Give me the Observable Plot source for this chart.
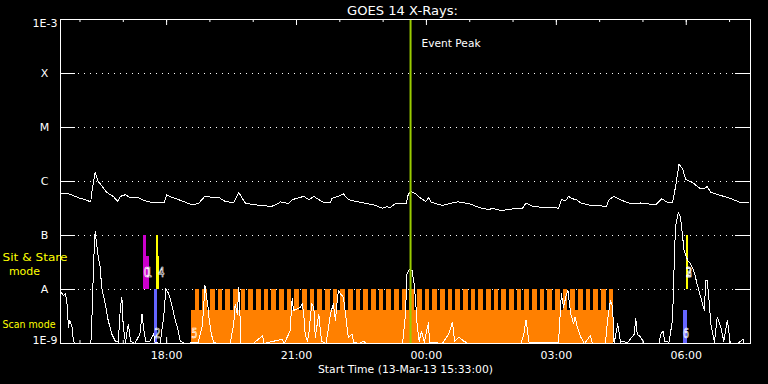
<!DOCTYPE html>
<html><head><meta charset="utf-8">
<script src="https://cdn.jsdelivr.net/npm/d3@7"></script>
<script src="https://cdn.jsdelivr.net/npm/@observablehq/plot@0.6"></script>
<style>html,body{margin:0;padding:0;background:#000;} svg{display:block}</style>
</head><body><div id="chart"></div>
<script>
// ---- data (times in minutes after 13-Mar-2013 15:33 UT) ----
const startTime = Date.UTC(2013, 2, 13, 15, 33);
const endMinute = 956;
const eventPeakMinute = 485;

// GOES long channel, flux in units of 1e-7 W/m^2
const goesMinutes = [1,9,16,25,34,42,43,48,52,57,
64,73,79,83,90,97,108,117,127,136,
144,147,154,168,182,191,197,200,210,219,
228,240,241,247,252,256,268,282,291,298,
305,312,316,321,328,337,344,351,358,365,
374,376,385,392,399,408,420,434,446,452,
457,464,474,479,482,486,492,499,506,510,
514,529,543,551,566,580,594,598,610,626,
640,645,654,667,681,690,694,700,704,709,
715,721,735,746,756,760,767,779,790,804,
825,833,841,848,852,857,862,866,875,887,
894,896,901,915,929,942,954];
const goesFlux7 = [5.9,6.0,5.6,5.0,4.6,4.2,6.0,14.5,10.1,8.4,
6.3,5.3,4.3,5.3,5.7,5.0,5.0,4.4,4.1,4.0,
4.1,5.7,5.1,4.4,3.7,3.9,4.8,5.3,5.1,5.1,
4.3,4.0,4.3,6.3,4.8,4.0,3.7,3.6,3.4,3.7,
4.2,4.0,3.9,4.6,4.9,5.3,4.6,5.3,4.6,4.1,
4.1,4.9,5.3,5.9,4.6,4.3,4.0,3.7,3.2,3.4,
3.3,3.9,3.9,3.9,5.9,6.5,5.9,4.9,4.3,5.0,
4.1,3.6,4.0,4.2,3.9,3.3,3.0,3.2,2.9,3.1,
3.2,4.0,3.5,3.3,3.3,3.2,4.6,4.4,5.3,4.8,
4.6,4.0,3.6,3.6,3.4,4.6,5.3,4.4,3.9,4.0,
3.7,4.8,4.1,4.1,7.8,21,17,11,9.7,7.3,
7.6,8.1,6.3,5.5,4.8,4.1,4.0];

// lower (spiky) curve, flux in units of 1e-9 W/m^2
const lowMinutes = [1,4,7,9,11,13,16,18,20,25,
27,42,43,46,48,50,53,55,57,62,
66,71,76,80,83,85,87,90,94,97,
103,110,113,115,118,124,129,131,138,143,
146,150,154,159,162,166,173,191,196,198,
200,203,204,206,209,212,217,235,240,242,
245,247,248,250,265,267,280,282,307,310,
318,321,323,328,332,335,337,339,342,344,
348,351,353,355,358,360,362,368,374,378,
381,383,385,388,392,395,398,399,404,406,
413,420,424,474,478,480,484,487,490,492,
494,497,500,504,510,511,529,538,543,546,
552,559,565,638,642,645,649,690,694,697,
700,703,707,711,713,716,721,726,734,737,
755,758,762,765,767,772,776,781,785,795,
797,799,804,809,829,832,835,837,843,848,
850,852,856,859,862,864,869,873,878,882,
887,892,894,896,899,901,906,910,915,919,
924,928,938,946,947,954];
const lowFlux9 = [8.9,7.7,8.3,5.4,2.0,2.7,2.0,1.1,1,1,
1,1,1.7,34.5,120,70,35,26,11,5.4,
2.7,1.5,1.1,1.06,4.7,7.2,2.0,1.06,2.3,1.1,
1,1.5,3.5,2.0,1.1,1.1,1.5,1.06,1,3.1,
10.3,8.3,5.4,2.7,2.0,1.1,1,1.06,2.0,3.8,
11.9,6.3,5.5,2.7,1.5,1.06,1,1,2.3,5.4,
3.5,11,6.3,1,1,1,1.4,1,1.2,1,
1.7,6.7,4.1,4.4,4.7,5.4,3.5,1.5,1.1,1.5,
5.4,4.7,1.3,2.0,3.5,1.7,1.1,1,3.5,5.4,
2.7,5.4,9.6,8.3,7.2,3.5,1.5,1.3,1.5,1.06,
1,1.1,1,1,3.5,19.5,24,22.5,12.7,6.3,
2.3,1.1,1.7,1.06,2.5,1.06,1,1.5,2.5,1.1,
1.3,1.1,1,1,1.5,2.75,1.06,1.06,8.3,4.7,
7.2,9.6,3.5,2.3,3.1,2.0,1.3,1,1.4,1,
1,2.7,6.3,4.7,1,2.3,1.06,1.1,1,1.5,
2.9,1.5,1.3,1,1,1.5,1.7,1.1,1.06,2.7,
22.5,143,270,220,93,53,34.5,30,21,12.7,
7.2,4.1,14.7,14.7,5.4,2.3,1.06,3.1,2.0,1.1,
2.7,1,1,1.2,1,1];

// flux levels and their labels
const levelValues = [1e-3, 1e-4, 1e-5, 1e-6, 1e-7, 1e-8, 1e-9];
const levelLabels = ["1E-3", "X", "M", "C", "B", "A", "1E-9"];
const tickLabels = ["18:00", "21:00", "00:00", "03:00", "06:00"];

// observation blocks
const obsStart  = [115.4, 118.7, 130.2, 132.9, 135.7, 181.4, 862.6, 866.8];
const obsEnd    = [118.7, 123.2, 133.9, 135.7, 137.4, 766.6, 868.2, 869.5];
const obsBottom = [1e-8, 1e-8, 1e-9, 1e-8, 1e-8, 1e-9, 1e-9, 1e-8];
const obsTop    = [1e-7, 4.1e-8, 1e-8, 1e-7, 4.1e-8, 4.1e-9, 4.1e-9, 1e-7];
const obsColor  = ["#cc00cc", "#cc00cc", "#6666ff", "#ffff00", "#ffff00", "#ff8000", "#6666ff", "#ffff00"];

// raster starts within scan observation 5 (minutes), each raster ~6.5 min long
const rasterStarts = [186.5,197.1,207.7,218.4,229.0,239.6,250.2,260.8,271.5,282.1,
292.7,303.3,313.9,324.6,335.2,345.8,356.4,367.0,377.7,388.3,
398.9,409.5,420.1,430.8,441.4,452.0,462.6,473.2,483.9,494.5,
505.1,515.7,526.3,537.0,547.6,558.2,568.8,579.4,590.1,600.7,
611.3,621.9,632.5,643.2,653.8,664.4,675.0,685.6,696.3,706.9,
717.5,728.1,738.7,749.4,760.0];
const rasterLength = 6.5;
const rasterTop = 1e-8;

// observation labels
const labelText   = ["0", "1", "2", "4", "5", "6", "3", "2"];
const labelMinute = [115.4, 118.7, 130.2, 135.7, 181.4, 862.6, 866.8, 866.8];
const labelMode   = ["stare", "stare", "scan", "stare", "scan", "scan", "stare", "stare"];

// ---- build ----
const T = m => new Date(startTime + m * 60000);
const goes = goesMinutes.map((m, i) => ({t: T(m), f: goesFlux7[i] * 1e-7}));
const low = lowMinutes.map((m, i) => ({t: T(m), f: lowFlux9[i] * 1e-9}));
const obs = obsStart.map((s, i) => ({s: T(s), e: T(obsEnd[i]), b: obsBottom[i], top: obsTop[i], c: obsColor[i]}));
const rasters = rasterStarts.map(s => ({s: T(s), e: T(s + rasterLength)}));
const labels = labelText.map((t, i) => ({text: t, x: T(labelMinute[i]), mode: labelMode[i]}));
const startMin = 15 * 60 + 33;
const majorTicks = tickLabels.map(s => {
  const [h, mm] = s.split(":").map(Number);
  return {t: T(((h * 60 + mm) - startMin + 1440) % 1440), label: s};
});
const hours = d3.utcHour.range(new Date(startTime), T(endMinute));
const gridLevels = levelValues.slice(1, -1);
const levels = levelValues.map((v, i) => ({v, label: levelLabels[i], i}));

const W = 768, H = 384, mL = 60, mR = 18, mT = 19, mB = 41;
const fw = W - mL - mR, fh = H - mT - mB;
const digitFont = {fill: "none", stroke: "white", strokeWidth: 0.7, fontSize: 14, fontFamily: "DejaVu Sans Condensed, DejaVu Sans", className: "obs-digit"};

const chart = Plot.plot({
  width: W, height: H,
  marginLeft: mL, marginRight: mR, marginTop: mT, marginBottom: mB,
  x: {type: "utc", domain: [T(0), T(endMinute)], axis: null},
  y: {type: "log", domain: [1e-9, 1e-3], axis: null},
  style: {background: "black", color: "white", fontFamily: "DejaVu Sans", fontSize: "11px"},
  marks: [
    Plot.ruleY(gridLevels, {y: d => d, stroke: "white", strokeDasharray: "1,5", strokeDashoffset: -3, insetLeft: 15, insetRight: 15}),
    Plot.ruleY(gridLevels, {y: d => d, stroke: "white", insetRight: fw - 15}),
    Plot.ruleY(gridLevels, {y: d => d, stroke: "white", insetLeft: fw - 15}),
    Plot.ruleX(hours, {x: d => d, stroke: "white", insetBottom: fh - 3}),
    Plot.ruleX(majorTicks, {x: "t", stroke: "white", insetBottom: fh - 6}),
    Plot.ruleX(hours, {x: d => d, stroke: "white", insetTop: fh - 3}),
    Plot.ruleX(majorTicks, {x: "t", stroke: "white", insetTop: fh - 6}),
    Plot.rect(obs, {x1: "s", x2: "e", y1: "b", y2: "top", fill: "c", shapeRendering: "crispEdges"}),
    Plot.rect(rasters, {x1: "s", x2: "e", y1: 1e-9, y2: rasterTop, fill: "#ff8000", shapeRendering: "crispEdges"}),
    Plot.line(goes, {x: "t", y: "f", stroke: "white", strokeWidth: 1, shapeRendering: "crispEdges"}),
    Plot.line(low, {x: "t", y: "f", stroke: "white", strokeWidth: 1, shapeRendering: "crispEdges"}),
    Plot.ruleX([T(eventPeakMinute)], {x: d => d, stroke: "#99cc00", strokeWidth: 2}),
    Plot.frame({stroke: "white"}),
    // observation labels (outlined digits)
    Plot.text(labels.filter(d => d.mode === "stare"), {x: "x", y: 1e-8, text: "text", dy: -17, textAnchor: "start", ...digitFont}),
    Plot.text(labels.filter(d => d.mode === "scan"), {x: "x", y: 1e-9, text: "text", dy: -10, textAnchor: "start", ...digitFont}),
    // level labels
    Plot.text(levels.filter(d => d.i === 0), {y: "v", text: "label", frameAnchor: "left", dx: -3, dy: 4, textAnchor: "end", fill: "white"}),
    Plot.text(levels.filter(d => d.i === 6), {y: "v", text: "label", frameAnchor: "left", dx: -3, dy: -3, textAnchor: "end", fill: "white"}),
    Plot.text(levels.filter(d => d.i > 0 && d.i < 6), {y: "v", text: "label", frameAnchor: "left", dx: -16, textAnchor: "middle", fill: "white"}),
    // mode labels
    Plot.text(["Sit & Stare"], {y: () => 1e-7, text: d => d, frameAnchor: "left", dx: -58, dy: 22, textAnchor: "start", fill: "#ffff00"}),
    Plot.text(["mode"], {y: () => 1e-8, text: d => d, frameAnchor: "left", dx: -36, dy: -18, textAnchor: "middle", fill: "#ffff00"}),
    Plot.text(["Scan mode"], {y: () => 1e-9, text: d => d, frameAnchor: "left", dx: -58, dy: -19, textAnchor: "start", fill: "#ffff00"}),
    // time tick labels
    Plot.text(majorTicks, {x: "t", text: "label", frameAnchor: "bottom", lineAnchor: "middle", dy: 12, fill: "white"}),
    Plot.text(["Start Time (13-Mar-13 15:33:00)"], {text: d => d, frameAnchor: "bottom", lineAnchor: "middle", dy: 26, fill: "white"}),
    Plot.text(["GOES 14 X-Rays:"], {text: d => d, frameAnchor: "top", lineAnchor: "middle", dx: -3, dy: -9, fill: "white", fontSize: 12.5}),
    Plot.text(["Event Peak"], {x: () => T(eventPeakMinute), y: () => 1e-3, text: d => d, dx: 11, dy: 24, textAnchor: "start", fill: "white"})
  ]
});
// fit a few texts to the widths measured in the reference
const fitWidths = {"Sit & Stare": 65, "Scan mode": 53, "Start Time (13-Mar-13 15:33:00)": 175, "GOES 14 X-Rays:": 111, "Event Peak": 59};
d3.select(chart).selectAll("text").each(function() {
  const w = fitWidths[this.textContent];
  if (w) { this.setAttribute("textLength", w); this.setAttribute("lengthAdjust", "spacingAndGlyphs"); }
});
// narrow the outlined observation digits like the reference's vector font
d3.select(chart).selectAll(".obs-digit text").attr("textLength", 6).attr("lengthAdjust", "spacingAndGlyphs");
document.getElementById("chart").appendChild(chart);
</script>
</body></html>
